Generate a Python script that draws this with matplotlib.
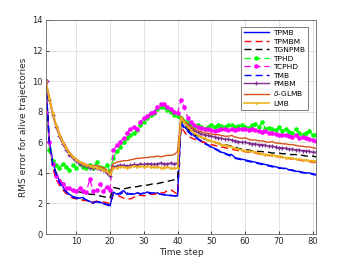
import numpy as np
import matplotlib
matplotlib.use("Agg")
import matplotlib.pyplot as plt

# --- data ---
steps = np.arange(1, 82)

tpmb = [10, 6.2, 4.8, 4.0, 3.5, 3.1, 2.8, 2.6, 2.45, 2.4, 2.35, 2.4, 2.2, 2.15, 2.0, 2.15, 2.1, 2.0, 1.9, 1.85,
        2.75, 2.6, 2.7, 2.85, 2.6, 2.65, 2.6, 2.7, 2.65, 2.65, 2.75, 2.7, 2.65, 2.7, 2.6, 2.55, 2.55, 2.5, 2.5, 2.5,
        7.3, 7.0, 6.8, 6.6, 6.4, 6.25, 6.1, 5.95, 5.85, 5.7, 5.6, 5.5, 5.35, 5.3, 5.2, 5.2, 5.0, 4.95, 4.9, 4.85,
        4.8, 4.75, 4.7, 4.65, 4.6, 4.55, 4.5, 4.45, 4.4, 4.35, 4.3, 4.3, 4.2, 4.2, 4.1, 4.1, 4.05, 4.0, 4.0, 3.95, 3.9]

tpmbm = [10, 5.8, 4.4, 3.6, 3.2, 2.9, 2.65, 2.5, 2.35, 2.3, 2.3, 2.2, 2.2, 2.1, 2.1, 2.15, 2.05, 2.1, 2.05, 2.0,
         2.6, 2.55, 2.45, 2.35, 2.3, 2.3, 2.4, 2.5, 2.55, 2.5, 2.55, 2.6, 2.6, 2.65, 2.7, 2.7, 2.85, 2.9, 2.75, 2.6,
         7.0, 6.7, 6.4, 6.3, 6.2, 6.1, 6.05, 6.0, 5.9, 5.85, 5.8, 5.75, 5.7, 5.65, 5.6, 5.55, 5.5, 5.45, 5.4, 5.4,
         5.35, 5.3, 5.3, 5.25, 5.2, 5.2, 5.15, 5.1, 5.1, 5.05, 5.0, 5.0, 4.95, 4.9, 4.85, 4.85, 4.8, 4.8, 4.75, 4.7, 4.65]

tgnpmb = [10, 6.0, 4.8, 4.0, 3.6, 3.3, 3.1, 2.95, 2.85, 2.8, 2.75, 2.7, 2.65, 2.6, 2.6, 2.55, 2.5, 2.45, 2.4, 2.35,
          3.05, 3.0, 2.95, 2.95, 3.0, 3.05, 3.1, 3.1, 3.15, 3.2, 3.2, 3.25, 3.3, 3.3, 3.35, 3.4, 3.45, 3.5, 3.55, 3.6,
          7.5, 7.2, 6.9, 6.7, 6.5, 6.4, 6.3, 6.2, 6.15, 6.1, 6.0, 5.95, 5.9, 5.85, 5.8, 5.75, 5.7, 5.6, 5.55, 5.5,
          5.5, 5.45, 5.45, 5.4, 5.4, 5.35, 5.35, 5.3, 5.3, 5.3, 5.25, 5.25, 5.2, 5.2, 5.2, 5.15, 5.15, 5.1, 5.1, 5.1, 5.05]

tphd = [10, 5.5, 4.8, 4.5, 4.3, 4.6, 4.4, 4.2, 4.5, 4.3, 4.6, 4.4, 4.3, 4.5, 4.35, 4.7, 4.4, 4.3, 4.5, 4.1,
        5.0, 5.4, 5.7, 6.0, 6.3, 6.5, 6.6, 6.8, 7.1, 7.3, 7.6, 7.8, 7.9, 8.2, 8.3, 8.3, 8.1, 8.0, 7.8, 7.7,
        7.6, 7.4, 7.3, 7.2, 7.0, 7.1, 7.0, 6.9, 7.0, 7.1, 7.0, 7.1, 7.05, 7.0, 7.15, 7.1, 7.0, 7.05, 7.1, 7.0,
        6.95, 7.1, 7.2, 7.0, 7.3, 6.9, 6.95, 6.85, 6.8, 7.0, 6.75, 6.9, 6.7, 6.6, 6.85, 6.6, 6.5, 6.6, 6.75, 6.5, 6.45]

tcphd = [10, 6.0, 4.6, 3.8, 3.5, 3.3, 3.0, 3.0, 2.9, 2.8, 3.0, 2.8, 2.75, 3.6, 2.8, 2.85, 3.3, 2.8, 3.1, 2.9,
         5.5, 5.8, 6.0, 6.3, 6.6, 6.9, 7.0, 6.9, 7.3, 7.6, 7.7, 7.9, 8.0, 8.3, 8.5, 8.5, 8.3, 8.2, 8.0, 7.9,
         8.8, 8.3, 7.6, 7.3, 7.1, 7.0, 6.95, 6.9, 6.85, 6.8, 6.75, 6.8, 6.9, 6.85, 6.8, 6.85, 6.8, 6.9, 6.85, 6.85,
         6.8, 6.9, 6.8, 6.75, 6.7, 6.75, 6.6, 6.6, 6.55, 6.5, 6.45, 6.5, 6.4, 6.35, 6.45, 6.3, 6.35, 6.25, 6.2, 6.15, 6.1]

tmb = [10, 6.0, 4.6, 3.9, 3.4, 3.0, 2.75, 2.55, 2.4, 2.35, 2.3, 2.3, 2.25, 2.1, 2.1, 2.1, 2.05, 2.0, 1.95, 1.9,
       2.7, 2.65, 2.6, 2.75, 2.7, 2.6, 2.65, 2.7, 2.6, 2.7, 2.7, 2.65, 2.7, 2.65, 2.6, 2.6, 2.55, 2.55, 2.5, 2.5,
       7.2, 6.9, 6.7, 6.5, 6.35, 6.2, 6.05, 5.9, 5.8, 5.65, 5.55, 5.45, 5.3, 5.25, 5.15, 5.1, 4.95, 4.9, 4.85, 4.8,
       4.75, 4.7, 4.65, 4.6, 4.55, 4.5, 4.45, 4.4, 4.35, 4.3, 4.3, 4.25, 4.2, 4.15, 4.1, 4.05, 4.0, 4.0, 3.95, 3.9, 3.85]

pmbm = [10, 8.8, 7.8, 7.0, 6.4, 5.9, 5.5, 5.2, 4.95, 4.75, 4.6, 4.5, 4.45, 4.35, 4.3, 4.3, 4.25, 4.2, 4.0, 3.8,
        4.4, 4.45, 4.5, 4.5, 4.45, 4.5, 4.55, 4.5, 4.6, 4.55, 4.6, 4.6, 4.55, 4.6, 4.65, 4.6, 4.6, 4.65, 4.6, 4.65,
        7.6, 7.3, 7.1, 6.9, 6.75, 6.65, 6.55, 6.5, 6.45, 6.4, 6.35, 6.3, 6.25, 6.2, 6.2, 6.15, 6.1, 6.05, 6.0, 6.0,
        5.95, 5.9, 5.9, 5.85, 5.85, 5.8, 5.75, 5.75, 5.7, 5.65, 5.65, 5.6, 5.55, 5.55, 5.5, 5.5, 5.45, 5.45, 5.4, 5.35, 5.35]

dglmb = [10, 9.0, 8.0, 7.2, 6.6, 6.1, 5.7, 5.35, 5.1, 4.9, 4.75, 4.65, 4.55, 4.5, 4.45, 4.5, 4.4, 4.35, 4.2, 4.0,
         4.6, 4.7, 4.75, 4.8, 4.8, 4.85, 4.9, 4.95, 4.95, 5.0, 5.0, 5.05, 5.05, 5.1, 5.05, 5.1, 5.15, 5.15, 5.2, 5.4,
         7.7, 7.4, 7.2, 7.0, 6.85, 6.75, 6.7, 6.6, 6.6, 6.55, 6.5, 6.5, 6.45, 6.4, 6.4, 6.45, 6.35, 6.3, 6.25, 6.3,
         6.2, 6.15, 6.15, 6.1, 6.1, 6.05, 6.0, 6.05, 5.95, 5.95, 5.9, 5.9, 5.85, 5.85, 5.8, 5.75, 5.75, 5.7, 5.7, 5.65, 5.6]

lmb = [10, 8.9, 7.9, 7.1, 6.5, 6.0, 5.6, 5.3, 5.05, 4.85, 4.7, 4.6, 4.5, 4.45, 4.4, 4.35, 4.3, 4.2, 4.1, 3.9,
       4.3, 4.35, 4.4, 4.4, 4.35, 4.4, 4.45, 4.4, 4.45, 4.4, 4.45, 4.4, 4.4, 4.4, 4.35, 4.35, 4.4, 4.3, 4.3, 4.3,
       7.6, 7.3, 7.0, 6.8, 6.6, 6.45, 6.35, 6.25, 6.15, 6.1, 6.0, 5.95, 5.85, 5.8, 5.75, 5.7, 5.6, 5.55, 5.5, 5.45,
       5.4, 5.4, 5.35, 5.3, 5.25, 5.2, 5.2, 5.15, 5.1, 5.1, 5.05, 5.0, 5.0, 4.95, 4.9, 4.9, 4.85, 4.85, 4.8, 4.8, 4.75]

labels = ["TPMB", "TPMBM", "TGNPMB", "TPHD", "TCPHD", "TMB", "PMBM", r"$\delta$-GLMB", "LMB"]

# --- plot ---
plt.rcParams["font.family"] = "DejaVu Sans"
fig = plt.figure(figsize=(3.5, 2.63), dpi=100)
ax = fig.add_axes([0.131, 0.110, 0.772, 0.814])

ax.plot(steps, tpmb, color="#0000ff", lw=1.0, label=labels[0])
ax.plot(steps, tpmbm, color="#ff0000", lw=1.0, ls=(0, (5, 3)), label=labels[1])
ax.plot(steps, tgnpmb, color="#000000", lw=1.0, ls=(0, (5, 3)), label=labels[2])
ax.plot(steps, tphd, color="#00ff00", lw=0.9, ls=(0, (5, 3)), marker="o", ms=2.3,
        mfc="#00ff00", mec="#00ff00", label=labels[3])
ax.plot(steps, tcphd, color="#ff00ff", lw=0.9, ls=(0, (5, 3)), marker="o", ms=2.3,
        mfc="#ff00ff", mec="#ff00ff", label=labels[4])
ax.plot(steps, tmb, color="#0000ff", lw=1.0, ls=(0, (5, 3)), label=labels[5])
ax.plot(steps, pmbm, color="#7e2f8e", lw=1.0, marker="+", ms=3, mew=0.9, label=labels[6])
ax.plot(steps, dglmb, color="#d95319", lw=1.0, label=labels[7])
ax.plot(steps, lmb, color="#edb120", lw=1.2, marker=".", ms=2, label=labels[8])

ax.set_xlim(1, 81)
ax.set_ylim(0, 14)
ax.set_xticks(np.arange(10, 81, 10))
ax.set_yticks(np.arange(0, 15, 2))
ax.tick_params(direction="in", length=2.5, width=0.6, labelsize=6, colors="#262626", pad=2)
ax.grid(True, color="#dddddd", lw=0.6)
for sp in ax.spines.values():
    sp.set_color("#666666")
    sp.set_linewidth(0.6)

ax.set_xlabel("Time step", fontsize=6.5, color="#262626", labelpad=1.5)
ax.set_ylabel("RMS error for alive trajectories", fontsize=6.5, color="#262626", labelpad=3)

leg = ax.legend(loc="upper right", bbox_to_anchor=(0.975, 0.975), fontsize=5.4, frameon=True,
                fancybox=False, handlelength=3.4, labelspacing=0.3, borderpad=0.4,
                handletextpad=0.5, borderaxespad=0.2)
leg.get_frame().set_edgecolor("#444444")
leg.get_frame().set_linewidth(0.6)

fig.savefig("out.png", dpi=100)
